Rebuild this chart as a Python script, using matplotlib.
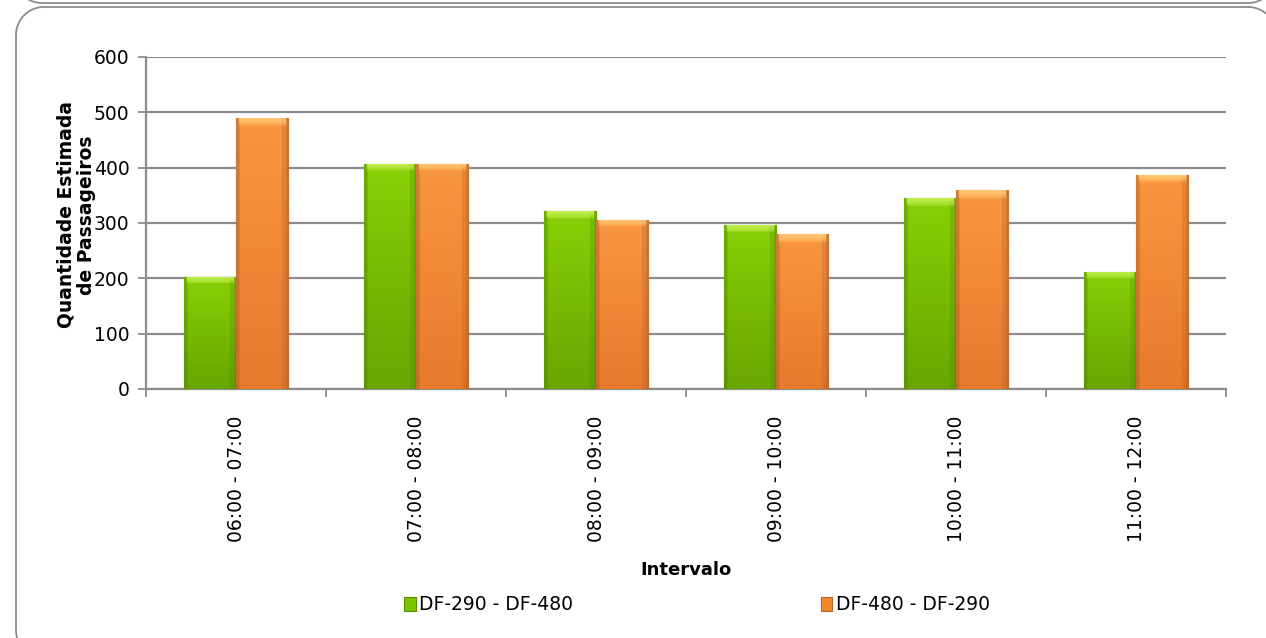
import numpy as np
import matplotlib
matplotlib.use("Agg")
import matplotlib.pyplot as plt
from matplotlib.lines import Line2D
from matplotlib.colors import to_rgb

intervalos = ["06:00 - 07:00", "07:00 - 08:00", "08:00 - 09:00",
              "09:00 - 10:00", "10:00 - 11:00", "11:00 - 12:00"]
df290_df480 = [203, 407, 321, 296, 345, 212]
df480_df290 = [490, 407, 306, 280, 359, 386]
serie_nomes = ["DF-290 - DF-480", "DF-480 - DF-290"]

plt.rcParams['font.family'] = ['DejaVu Sans']

W, H = 1266, 638
fig = plt.figure(figsize=(W / 100, H / 100), dpi=100)


# moldura arredondada; coordenadas em pixels da imagem (y para baixo)
def moldura(x0, y0, x1, y1, r=28):
    pts = []
    cantos = [(x1 - r, y0 + r, -90, 0), (x1 - r, y1 - r, 0, 90),
              (x0 + r, y1 - r, 90, 180), (x0 + r, y0 + r, 180, 270)]
    for cx, cy, a0, a1 in cantos:
        a = np.radians(np.linspace(a0, a1, 30))
        pts += list(zip(cx + r * np.cos(a), cy + r * np.sin(a)))
    pts.append(pts[0])
    xs = np.array([p[0] for p in pts]) / W
    ys = 1 - np.array([p[1] for p in pts]) / H
    fig.add_artist(Line2D(xs, ys, transform=fig.transFigure,
                          color="#8c8c8c", linewidth=1.3))

moldura(16, 7, 1276, H + 20)     # grafico atual
moldura(14, -300, 1276, 3)       # borda do grafico de cima

ax = fig.add_axes([146 / W, 1 - 389 / H, 1080 / W, 332 / H])

x = np.arange(len(intervalos))
w = 0.29


def shade(ax, rect, top_c, bot_c, edge, brilho):
    x0, y0 = rect.get_x(), rect.get_y()
    bw, bh = rect.get_width(), rect.get_height()
    n, rows = 60, 100
    t = np.linspace(0, 1, n)
    # escurece as bordas laterais (mais na direita)
    prof = np.ones(n)
    prof[t < 0.06] = 0.55
    prof[t > 0.88] = 0.75
    prof[t > 0.95] = 0.45
    tc, bc, ec, br = map(lambda c: np.array(to_rgb(c)), (top_c, bot_c, edge, brilho))
    img = np.zeros((rows, n, 3))
    for r in range(rows):
        v = r / (rows - 1)
        c = tc * (1 - v) + bc * v
        img[r] = c[None, :] * prof[:, None] + ec[None, :] * (1 - prof[:, None])
    # faixa de brilho no topo (bisel)
    px = 600 / 332  # unidades por pixel
    hb = min(7 * px, bh * 0.4)
    nt = max(1, int(round(rows * hb / bh)))
    for r in range(nt):
        f = 0.75 - 0.35 * r / max(nt - 1, 1)
        img[r, 3:-3] = img[r, 3:-3] * (1 - f) + br * f
    im = ax.imshow(img, extent=[x0, x0 + bw, y0, y0 + bh], aspect="auto",
                   zorder=3, interpolation="bilinear")
    im.set_clip_path(rect)


bars1 = ax.bar(x - w / 2, df290_df480, w, color="#7cc400", edgecolor="#5a8e00",
               linewidth=0.8, zorder=3, label=serie_nomes[0])
bars2 = ax.bar(x + w / 2, df480_df290, w, color="#f08a30", edgecolor="#b8642a",
               linewidth=0.8, zorder=3, label=serie_nomes[1])
for r in bars1:
    shade(ax, r, "#88d006", "#68a602", "#4f8400", "#d4f864")
for r in bars2:
    shade(ax, r, "#f99640", "#e77a2c", "#a85a28", "#ffd880")

ax.set_xlim(-0.5, len(intervalos) - 0.5)
ax.set_ylim(0, 600)
ax.set_yticks(np.arange(0, 601, 100))
ax.yaxis.grid(True, color="#8c8c8c", linewidth=1.6)
ax.set_axisbelow(True)

ax.set_xticks(x)
ax.set_xticklabels(intervalos, rotation=90, fontsize=13.5)
ax.set_xticks(np.arange(-0.5, len(intervalos)), minor=True)
ax.tick_params(axis="x", which="major", length=0, pad=19)
ax.tick_params(axis="x", which="minor", length=6, color="#8c8c8c", width=1.3)
ax.tick_params(axis="y", length=6, color="#8c8c8c", width=1.3, labelsize=13.5, pad=6)

for s in ["top", "right"]:
    ax.spines[s].set_visible(False)
for s in ["left", "bottom"]:
    ax.spines[s].set_color("#8c8c8c")
    ax.spines[s].set_linewidth(1.6)

ax.set_xlabel("Intervalo", fontsize=13, fontweight="bold", labelpad=14)
fig.text(76 / W, 1 - 215 / H, "Quantidade Estimada\nde Passageiros",
         rotation=90, ha="center", va="center", fontsize=13.5,
         fontweight="bold", linespacing=1.1)

leg = fig.legend(handles=[bars1, bars2], labels=serie_nomes,
                 loc="center", bbox_to_anchor=(697 / W, 1 - 605 / H),
                 ncol=2, frameon=False, fontsize=13.5, handlelength=0.6,
                 handleheight=0.7, handletextpad=0.2, columnspacing=13.2)

fig.savefig("out.png", dpi=100)
